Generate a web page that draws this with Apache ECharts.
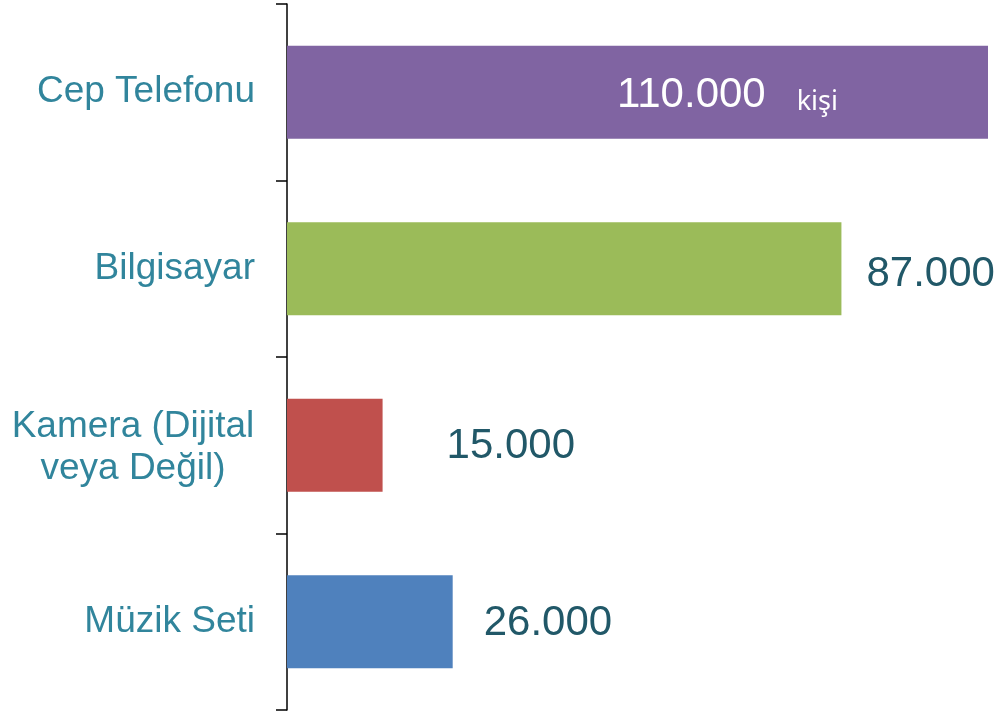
<!DOCTYPE html>
<html>
<head>
<meta charset="utf-8">
<script src="https://cdn.jsdelivr.net/npm/echarts@6/dist/echarts.min.js"></script>
<style>
  html, body { margin: 0; padding: 0; background: #fff; }
  #main { width: 998px; height: 714px; }
</style>
</head>
<body>
<div id="main"></div>
<script>
// bottom to top
const categories = ['Müzik Seti', 'Kamera (Dijital\nveya Değil)', 'Bilgisayar', 'Cep Telefonu'];
const values = [26000, 15000, 87000, 110000];
const valueLabels = ['26.000', '15.000', '87.000', '110.000'];
const colors = ['#4F81BD', '#C0504D', '#9BBB59', '#8064A2'];
const unit = 'kişi';

const labelDist = [31, 64, 25];
const labelShift = [2, 1, 6];

const chart = echarts.init(document.getElementById('main'));

const seriesData = values.map(function (v, i) {
  let item = { value: v, itemStyle: { color: colors[i] } };
  if (i === 3) {
    item.label = {
      show: true,
      position: [330, 50],
      verticalAlign: 'middle',
      formatter: '{a|' + valueLabels[i] + '}{b|' + unit + '}',
      rich: {
        a: { fontFamily: 'Liberation Sans', fontSize: 42, color: '#fff', padding: [0, 31, 0, 0] },
        b: { fontFamily: 'Noto Sans', fontSize: 27, color: '#fff', padding: [14, 0, 0, 0] }
      }
    };
  } else {
    item.label = {
      show: true,
      position: 'right',
      distance: labelDist[i],
      offset: [0, labelShift[i]],
      formatter: valueLabels[i],
      fontFamily: 'Liberation Sans',
      fontSize: 42,
      color: '#215868'
    };
  }
  return item;
});

const option = {
  animation: false,
  grid: { left: 287, right: 10, top: 4, bottom: 4, containLabel: false },
  xAxis: {
    type: 'value',
    min: 0,
    max: 110000,
    show: false
  },
  yAxis: {
    type: 'category',
    data: categories,
    axisLine: { lineStyle: { color: '#000', width: 1.5 } },
    axisTick: { show: true, length: 11, lineStyle: { color: '#000', width: 1.5 } },
    axisLabel: {
      margin: 32,
      fontFamily: 'Liberation Sans',
      fontSize: 37,
      color: '#31859C',
      lineHeight: 42,
      formatter: function (v) {
        if (v.indexOf('\n') >= 0) {
          return v.split('\n').map(function (s) { return '{c|' + s + '}'; }).join('\n');
        }
        return v;
      },
      rich: {
        c: { fontFamily: 'Liberation Sans', fontSize: 37, color: '#31859C', width: 244, align: 'center', lineHeight: 42, padding: [5, 0, 0, 0] }
      }
    }
  },
  series: [{
    type: 'bar',
    barWidth: 93,
    data: seriesData
  }]
};

chart.setOption(option);
</script>
</body>
</html>
